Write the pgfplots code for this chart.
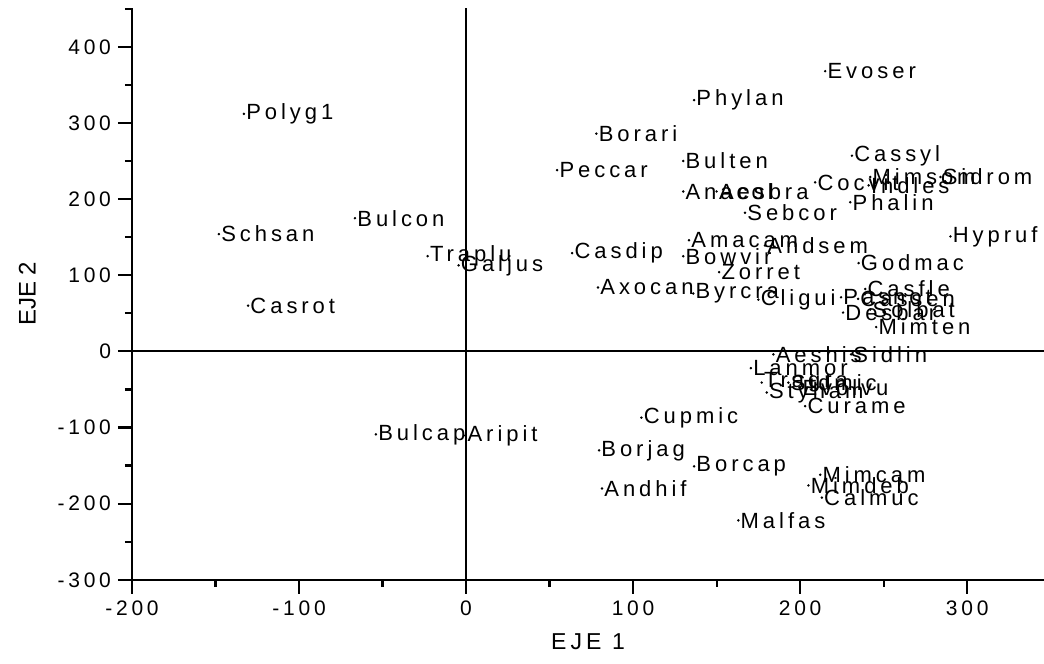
\documentclass[border=0pt]{standalone}
\usepackage{pgfplots}
\pgfplotsset{compat=1.18}
\usetikzlibrary{calc}
\usepackage{fontspec}
\setmainfont{Liberation Sans}
\newfontfamily\labfont[LetterSpace=18]{Liberation Sans}
\newfontfamily\tickfont[LetterSpace=18]{Liberation Sans}

\pgfplotstableread{
x y label
215 368 Evoser
136.5 330 Phylan
-133 312 Polyg1
78 286 Borari
231 257 Cassyl
130 250 Bulten
54.5 238 Peccar
242 229 Mimsom
284 229 Sidrom
241 218 Indles
209 222 Cocvit
130 210 Anacol
150 210 Aesbra
230 196 Phalin
-66.5 175 Bulcon
167 182 Sebcor
-148 154 Schsan
290 151 Hypruf
133.5 146 Amacam
179 139 Andsem
63.5 129 Casdip
130 125 Bowvir
-23 125 Traplu
-4.5 113 Galjus
235 116 Godmac
151.5 104 Zorret
79 84 Axocan
136 76 Byrcra
239 82 Casfle
175 68 Cligui
224.5 71 Pasnot
234.7 69 Cassen
225.7 51 Desbar
242 55 Solbat
-130.5 60 Casrot
245.5 32 Mimten
184 -4 Aeshis
230.5 -4 Sidlin
170.5 -22 Lanmor
177 -41 Tragra
193 -41 Sidmic
180 -54 Styham
200 -47 Evolvu
203 -72 Curame
105 -87 Cupmic
-54 -109 Bulcap
-0.5 -110.5 Aripit
79.6 -130 Borjag
136.5 -151 Borcap
212 -162 Mimcam
81.4 -180 Andhif
205 -176 Mimdeb
213 -192 Calmuc
163 -222 Malfas
}\datatable

\begin{document}
\begin{tikzpicture}
\begin{axis}[
    scale only axis,
    width=456pt, height=285.9pt,
    xmin=-200, xmax=346,
    ymin=-300, ymax=451,
    axis x line*=bottom,
    axis y line*=left,
    axis line style={-, line width=1.3pt},
    xtick distance=100, ytick distance=100,
    minor x tick num=1, minor y tick num=1,
    tick align=outside,
    major tick length=7pt, minor tick length=3.5pt,
    tick style={black, line width=1.1pt},
    /pgf/number format/assume math mode=true,
    ticklabel style={font=\tickfont\fontsize{10.5}{12}\selectfont},
    xlabel={\labfont\fontsize{11.5}{13}\selectfont EJE 1},
    ylabel={\fontsize{12}{14}\selectfont EJE 2},
    xlabel style={yshift=-2pt},
    ylabel style={yshift=4pt},
    clip=false,
]
\draw[line width=1.4pt] (axis cs:0,-300) -- (axis cs:0,451);
\draw[line width=1.1pt] (axis cs:-200,0) -- (axis cs:346,0);
\addplot[only marks, mark=*, mark size=0.4pt, black,
    nodes near coords, point meta=explicit symbolic,
    nodes near coords style={anchor=west, inner sep=0pt, xshift=1pt,
        font=\labfont\fontsize{11}{13}\selectfont}]
    table[x=x, y=y, meta=label] {\datatable};
\end{axis}
\pgfresetboundingbox
\path ($(current axis.south west)+(-66pt,-42pt)$) rectangle ($(current axis.north east)+(0pt,4pt)$);
\end{tikzpicture}
\end{document}
